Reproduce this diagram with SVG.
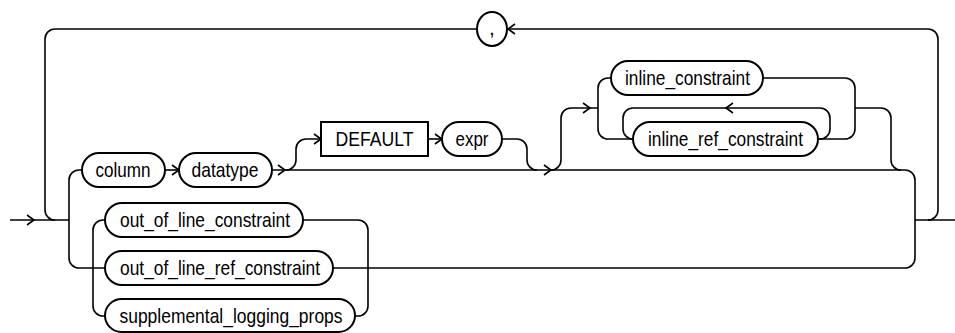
<svg xmlns="http://www.w3.org/2000/svg" xmlns:xlink="http://www.w3.org/1999/xlink" width="955" height="333" viewBox="0 0 955 333">
<style>
.bg{fill:#fff}
.box{fill:#fff;stroke:#000;stroke-width:2}
.ln{fill:none;stroke:#000;stroke-width:1.6}
.ar{fill:none;stroke:#000;stroke-width:1.6;stroke-linejoin:miter}
.t{font-family:"Liberation Sans",Arial,sans-serif;font-size:21px;fill:#000;text-anchor:middle}
</style>
<defs>
<path id="arr" class="ar" d="M-7,-5 L0,0 L-7,5"/>
</defs>
<rect class="bg" x="0" y="0" width="955" height="333"/>
<g id="connectors">
<path class="ln" d="M10,220 H69"/>
<path class="ln" d="M55,220 A10,10 0 0 1 45,210 V39 A10,10 0 0 1 55,29 H477 M507,29 H928 A10,10 0 0 1 938,39 V210 A10,10 0 0 1 928,220"/>
<path class="ln" d="M915,220 H955"/>
<path class="ln" d="M82,170 H79 A10,10 0 0 0 69,180 V258 A10,10 0 0 0 79,268 H105"/>
<path class="ln" d="M165,170 H179"/>
<path class="ln" d="M272,170 H905 A10,10 0 0 1 915,180 V258 A10,10 0 0 1 905,268 H333"/>
<path class="ln" d="M286,170 A10,10 0 0 0 296,160 V149 A10,10 0 0 1 306,139 H321"/>
<path class="ln" d="M428,139 H442"/>
<path class="ln" d="M502,139 H517 A10,10 0 0 1 527,149 V160 A10,10 0 0 0 537,170"/>
<path class="ln" d="M551,170 A10,10 0 0 0 561,160 V118 A10,10 0 0 1 571,108 H598"/>
<path class="ln" d="M611,78 H608 A10,10 0 0 0 598,88 V129 A10,10 0 0 0 608,139 H633"/>
<path class="ln" d="M633,108 A10,10 0 0 0 623,118 V129 A10,10 0 0 0 633,139"/>
<path class="ln" d="M633,108 H820 A10,10 0 0 1 830,118 V129 A10,10 0 0 1 820,139 H818"/>
<path class="ln" d="M763,78 H845 A10,10 0 0 1 855,88 V129 A10,10 0 0 1 845,139 H818"/>
<path class="ln" d="M855,108 H881 A10,10 0 0 1 891,118 V160 A10,10 0 0 0 901,170"/>
<path class="ln" d="M105,220 H103 A10,10 0 0 0 93,230 V306 A10,10 0 0 0 103,316 H105"/>
<path class="ln" d="M303,220 H358 A10,10 0 0 1 368,230 V306 A10,10 0 0 1 358,316 H355"/>
<use xlink:href="#arr" href="#arr" transform="translate(34,220)"/>
<use xlink:href="#arr" href="#arr" transform="translate(179,170)"/>
<use xlink:href="#arr" href="#arr" transform="translate(285,170)"/>
<use xlink:href="#arr" href="#arr" transform="translate(321,139)"/>
<use xlink:href="#arr" href="#arr" transform="translate(442,139)"/>
<use xlink:href="#arr" href="#arr" transform="translate(551,170)"/>
<use xlink:href="#arr" href="#arr" transform="translate(590,108)"/>
<use xlink:href="#arr" href="#arr" transform="translate(726,108) rotate(180)"/>
<use xlink:href="#arr" href="#arr" transform="translate(508,29) rotate(180)"/>
</g>
<g id="n-comma"><ellipse class="box" cx="492" cy="29" rx="15" ry="17"/><text class="t" x="492" y="35">,</text></g>
<g id="n-column"><rect class="box" x="82" y="153" width="83" height="34" rx="17"/><text class="t" x="123" y="177" textLength="55" lengthAdjust="spacingAndGlyphs">column</text></g>
<g id="n-datatype"><rect class="box" x="179" y="153" width="93" height="34" rx="17"/><text class="t" x="225" y="177" textLength="67" lengthAdjust="spacingAndGlyphs">datatype</text></g>
<g id="n-default"><rect class="box" x="321" y="122" width="107" height="34"/><text class="t" x="374.5" y="146" textLength="78" lengthAdjust="spacingAndGlyphs">DEFAULT</text></g>
<g id="n-expr"><rect class="box" x="442" y="122" width="60" height="34" rx="17"/><text class="t" x="472" y="146" textLength="33" lengthAdjust="spacingAndGlyphs">expr</text></g>
<g id="n-inline-constraint"><rect class="box" x="611" y="61" width="152" height="34" rx="17"/><text class="t" x="687.5" y="85" textLength="125" lengthAdjust="spacingAndGlyphs">inline_constraint</text></g>
<g id="n-inline-ref-constraint"><rect class="box" x="633" y="122" width="185" height="34" rx="17"/><text class="t" x="725.5" y="146" textLength="155" lengthAdjust="spacingAndGlyphs">inline_ref_constraint</text></g>
<g id="n-out-of-line-constraint"><rect class="box" x="105" y="203" width="198" height="34" rx="17"/><text class="t" x="205" y="227" textLength="170" lengthAdjust="spacingAndGlyphs">out_of_line_constraint</text></g>
<g id="n-out-of-line-ref-constraint"><rect class="box" x="105" y="251" width="228" height="34" rx="17"/><text class="t" x="220" y="275" textLength="200" lengthAdjust="spacingAndGlyphs">out_of_line_ref_constraint</text></g>
<g id="n-supplemental-logging-props"><rect class="box" x="105" y="299" width="250" height="33" rx="16.5"/><text class="t" x="231" y="323" textLength="223" lengthAdjust="spacingAndGlyphs">supplemental_logging_props</text></g>
</svg>
